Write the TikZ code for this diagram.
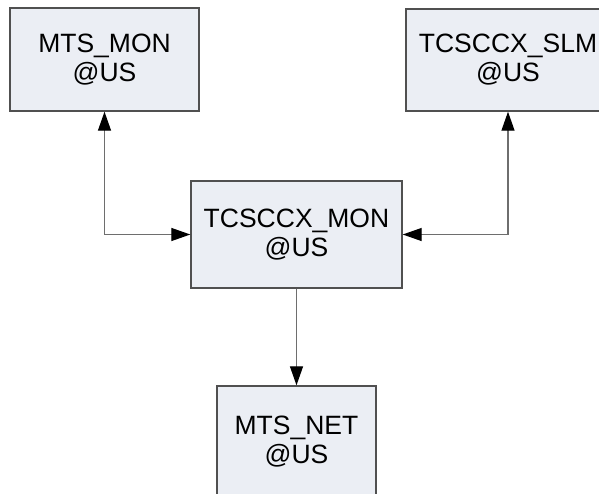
\documentclass[tikz,border=0pt]{standalone}
\usepackage{fontspec}
\setmainfont{Liberation Sans}
\usetikzlibrary{arrows.meta}
\definecolor{boxfill}{RGB}{235,238,244}
\definecolor{boxline}{RGB}{80,80,80}
\definecolor{wire}{RGB}{110,110,110}
\tikzset{
  unit/.style={draw=boxline, line width=1.4pt, fill=boxfill, align=center,
    inner sep=0pt, font=\fontsize{26.5}{29}\selectfont},
  link/.style={draw=wire, line width=1.3pt},
  headtip/.tip={Triangle[length=19pt, width=13pt, color=black]}
}
\begin{document}
\begin{tikzpicture}[x=1pt, y=-1pt]
  \useasboundingbox (0,0) rectangle (599,493);
  \clip (0,0) rectangle (599,493);
  \fill[white] (0,0) rectangle (599,493);

  \node[unit, minimum width=189pt, minimum height=103pt] (mtsmon) at (104.5,59.5) {MTS\_MON\\@US};
  \node[unit, minimum width=204pt, minimum height=102pt] (tcslm) at (508,60) {TCSCCX\_SLM\\@US};
  \node[unit, minimum width=211pt, minimum height=107pt] (tcmon) at (296.5,234.5) {TCSCCX\_MON\\@US};
  \node[unit, minimum width=159pt, minimum height=112pt] (mtsnet) at (296.5,442) {MTS\_NET\\@US};

  \draw[link, headtip-headtip] (mtsmon.south) |- (tcmon.west);
  \draw[link, headtip-headtip] (tcslm.south) |- (tcmon.east);
  \draw[link, -headtip] (tcmon.south) -- (mtsnet.north);
\end{tikzpicture}
\end{document}
